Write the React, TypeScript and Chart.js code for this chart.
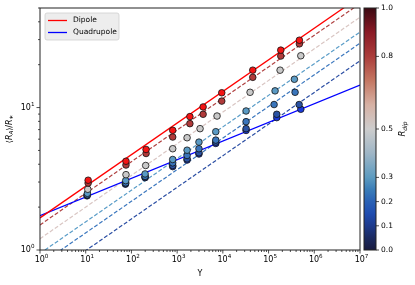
import React, { useEffect, useRef } from "react";
import { Chart, registerables } from "chart.js";
Chart.register(...registerables);

const FONT = "DejaVu Sans";

// axis ranges
const xMin = 1;
const xMax = 1e7;
const yMin = 1;
const yMax = 50;

// fit lines, values at Y = 1 and Y = 1e7
const lineY = [1, 1e7];
const dipoleLine = [1.68, 60.1];
const quadLine = [1.74, 14.4];

// dashed mixed-geometry lines (R_dip)
const dashedRdip = [0.8, 0.5, 0.3, 0.2, 0.1];
const dashedStart = [1.5, 1.2, 0.946, 0.791, 0.594];
const dashedEnd = [53.7, 43.1, 33.9, 28.3, 21.3];
const dashedColors = ["#b04242", "#d9c6c3", "#5a9dc8", "#3b77be", "#2b4ea3"];

// simulations grouped by R_dip
const seriesRdip = [1.0, 0.8, 0.5, 0.3, 0.2, 0.1, 0.0];
const pointColors = ["#f41414", "#b03a3a", "#c9c9c9", "#5a9ac4", "#3a75bb", "#2a52a3", "#1a3ad8"];

const ups10 = [11.3, 76, 209, 800, 1900, 3700, 9460, 45100, 185000, 472000];
const ups08 = [11.3, 76, 209, 800, 1900, 3700, 9460, 45100, 185000, 472000];
const ups05 = [11.1, 76, 205, 800, 1650, 3170, 7460, 39400, 178600, 507000];
const ups03 = [10.9, 75, 199, 800, 1650, 3000, 7000, 32200, 138700, 367000];
const ups02 = [10.8, 75, 199, 800, 1650, 3000, 7000, 32200, 132000, 380000];
const ups01 = [10.7, 74, 199, 800, 1650, 3000, 7000, 32200, 151000, 466000];
const ups00 = [10.7, 74, 199, 800, 1650, 3000, 7000, 32200, 151000, 507000];

const ra10 = [3.09, 4.2, 5.08, 6.92, 8.64, 10.1, 12.7, 18.3, 25.3, 29.7];
const ra08 = [2.95, 3.95, 4.76, 6.21, 7.71, 8.97, 11.1, 16.3, 23.0, 28.0];
const ra05 = [2.67, 3.38, 3.92, 5.14, 6.14, 7.11, 8.72, 12.8, 18.3, 23.1];
const ra03 = [2.5, 3.07, 3.42, 4.32, 5.02, 5.72, 6.77, 9.46, 13.1, 15.8];
const ra02 = [2.44, 2.96, 3.29, 4.09, 4.61, 5.14, 5.91, 7.96, 10.5, 12.8];
const ra01 = [2.42, 2.92, 3.25, 3.92, 4.36, 4.81, 5.72, 7.11, 8.97, 10.5];
const ra00 = [2.4, 2.9, 3.22, 3.85, 4.28, 4.72, 5.6, 6.91, 8.5, 9.73];

const upsSeries = [ups10, ups08, ups05, ups03, ups02, ups01, ups00];
const raSeries = [ra10, ra08, ra05, ra03, ra02, ra01, ra00];

// colour bar
const cmapStops: [number, string][] = [
  [0.0, "#191b3f"],
  [0.05, "#1b2a60"],
  [0.1, "#1d3a8c"],
  [0.15, "#1f4cb0"],
  [0.2, "#2a61b5"],
  [0.25, "#3a7db8"],
  [0.3, "#5d9bc0"],
  [0.4, "#9fb6c6"],
  [0.5, "#cdcdcd"],
  [0.6, "#d6b1a4"],
  [0.7, "#c47762"],
  [0.8, "#ab3d3b"],
  [0.9, "#8a1a25"],
  [1.0, "#3b0a12"],
];
const cbTicks = [0.0, 0.1, 0.2, 0.3, 0.5, 0.8, 1.0];

const xTickVals: number[] = [];
for (let k = 0; k < 7; k++) for (let m = 1; m < 10; m++) xTickVals.push(m * Math.pow(10, k));
xTickVals.push(1e7);
const yTickVals = [1, 2, 3, 4, 5, 6, 7, 8, 9, 10, 20, 30, 40, 50];

const isPow = (v: number) => Math.abs(Math.log10(v) - Math.round(Math.log10(v))) < 1e-9;

type Piece = { t: string; font: string; dy: number };
function richWidth(ctx: CanvasRenderingContext2D, pieces: Piece[]) {
  let w = 0;
  pieces.forEach((p) => {
    ctx.font = p.font;
    w += ctx.measureText(p.t).width;
  });
  return w;
}
function drawRich(
  ctx: CanvasRenderingContext2D,
  pieces: Piece[],
  x: number,
  y: number,
  rot: number,
  align: "center" | "right" = "center"
) {
  ctx.save();
  ctx.translate(x, y);
  ctx.rotate(rot);
  const w = richWidth(ctx, pieces);
  let cx = align === "center" ? -w / 2 : -w;
  ctx.textBaseline = "middle";
  ctx.textAlign = "left";
  ctx.fillStyle = "#000";
  pieces.forEach((p) => {
    ctx.font = p.font;
    ctx.fillText(p.t, cx, p.dy);
    cx += ctx.measureText(p.t).width;
  });
  ctx.restore();
}
const powPieces = (v: number): Piece[] => [
  { t: "10", font: `8px ${FONT}`, dy: 0 },
  { t: String(Math.round(Math.log10(v))), font: `5.6px ${FONT}`, dy: -3 },
];

const decor = {
  id: "decor",
  afterDraw(chart: any) {
    const { ctx, chartArea: a, scales } = chart;
    ctx.save();
    // tick marks and labels
    ctx.strokeStyle = "#222";
    ctx.lineWidth = 0.8;
    scales.x.ticks.forEach((t: any) => {
      const p = scales.x.getPixelForValue(t.value);
      const maj = isPow(t.value);
      ctx.beginPath();
      ctx.moveTo(p, a.bottom);
      ctx.lineTo(p, a.bottom + (maj ? 3.5 : 2));
      ctx.stroke();
      if (maj) drawRich(ctx, powPieces(t.value), p + 1.5, a.bottom + 10, 0);
    });
    scales.y.ticks.forEach((t: any) => {
      const p = scales.y.getPixelForValue(t.value);
      const maj = isPow(t.value);
      ctx.beginPath();
      ctx.moveTo(a.left, p);
      ctx.lineTo(a.left - (maj ? 3.5 : 2), p);
      ctx.stroke();
      if (maj) drawRich(ctx, powPieces(t.value), a.left - 5.5, p, 0, "right");
    });
    // frame
    ctx.lineWidth = 1;
    ctx.strokeStyle = "#222";
    ctx.strokeRect(a.left, a.top, a.right - a.left, a.bottom - a.top);

    // axis titles
    drawRich(ctx, [{ t: "Υ", font: `8px ${FONT}`, dy: 0 }], (a.left + a.right) / 2, a.bottom + 24, 0);
    drawRich(
      ctx,
      [
        { t: "⟨", font: `8px ${FONT}`, dy: 0 },
        { t: "R", font: `italic 8px ${FONT}`, dy: 0 },
        { t: "A", font: `italic 5.5px ${FONT}`, dy: 2 },
        { t: "⟩/", font: `8px ${FONT}`, dy: 0 },
        { t: "R", font: `italic 8px ${FONT}`, dy: 0 },
        { t: "∗", font: `5.5px ${FONT}`, dy: 2 },
      ],
      10,
      (a.top + a.bottom) / 2,
      -Math.PI / 2
    );

    // legend
    const lx = a.left + 5,
      ly = a.top + 5,
      lw = 74,
      lh = 27;
    ctx.beginPath();
    ctx.roundRect(lx, ly, lw, lh, 2);
    ctx.fillStyle = "rgba(236,236,236,0.95)";
    ctx.fill();
    ctx.strokeStyle = "#cfcfcf";
    ctx.lineWidth = 0.8;
    ctx.stroke();
    const items = [
      { c: "#ff0000", t: "Dipole" },
      { c: "#0000ff", t: "Quadrupole" },
    ];
    items.forEach((it, i) => {
      const yy = ly + 7.5 + i * 12;
      ctx.strokeStyle = it.c;
      ctx.lineWidth = 1.3;
      ctx.beginPath();
      ctx.moveTo(lx + 3, yy);
      ctx.lineTo(lx + 22, yy);
      ctx.stroke();
      ctx.fillStyle = "#000";
      ctx.font = `7.5px ${FONT}`;
      ctx.textBaseline = "middle";
      ctx.textAlign = "left";
      ctx.fillText(it.t, lx + 28, yy);
    });

    // colour bar
    const cbL = a.right + 4,
      cbR = a.right + 16,
      cbT = a.top,
      cbB = a.bottom;
    const g = ctx.createLinearGradient(0, cbB, 0, cbT);
    cmapStops.forEach(([s, c]) => g.addColorStop(s, c));
    ctx.fillStyle = g;
    ctx.fillRect(cbL, cbT, cbR - cbL, cbB - cbT);
    ctx.strokeStyle = "#222";
    ctx.lineWidth = 1;
    ctx.strokeRect(cbL, cbT, cbR - cbL, cbB - cbT);
    ctx.font = `7.5px ${FONT}`;
    ctx.fillStyle = "#000";
    ctx.textAlign = "left";
    ctx.textBaseline = "middle";
    cbTicks.forEach((v) => {
      const p = cbB - v * (cbB - cbT);
      ctx.lineWidth = 0.8;
      ctx.beginPath();
      ctx.moveTo(cbR, p);
      ctx.lineTo(cbR + 3, p);
      ctx.stroke();
      ctx.font = `7.5px ${FONT}`;
      ctx.fillStyle = "#000";
      ctx.textAlign = "left";
      ctx.textBaseline = "middle";
      ctx.fillText(v.toFixed(1), cbR + 5, p);
    });
    drawRich(
      ctx,
      [
        { t: "R", font: `italic 8.5px ${FONT}`, dy: 0 },
        { t: "dip", font: `italic 6px ${FONT}`, dy: 2 },
      ],
      a.right + 43,
      (cbT + cbB) / 2,
      -Math.PI / 2
    );
    ctx.restore();
  },
};

export default function App() {
  const ref = useRef<HTMLCanvasElement>(null);
  useEffect(() => {
    document.body.style.margin = "0";
    const datasets: any[] = [];
    seriesRdip.forEach((r, i) => {
      datasets.push({
        type: "scatter",
        label: "Rdip " + r,
        data: upsSeries[i].map((x, j) => ({ x, y: raSeries[i][j] })),
        backgroundColor: pointColors[i],
        borderColor: "#111",
        borderWidth: 0.8,
        pointRadius: 3.3,
        order: 1,
      });
    });
    dashedRdip.forEach((r, i) => {
      datasets.push({
        type: "line",
        label: "mix " + r,
        data: [
          { x: lineY[0], y: dashedStart[i] },
          { x: lineY[1], y: dashedEnd[i] },
        ],
        borderColor: dashedColors[i],
        borderWidth: 1.2,
        borderDash: [4, 2],
        pointRadius: 0,
        fill: false,
        order: 3,
      });
    });
    datasets.push({
      type: "line",
      label: "Dipole",
      data: lineY.map((x, j) => ({ x, y: dipoleLine[j] })),
      borderColor: "#ff0000",
      borderWidth: 1.3,
      pointRadius: 0,
      fill: false,
      order: 2,
    });
    datasets.push({
      type: "line",
      label: "Quadrupole",
      data: lineY.map((x, j) => ({ x, y: quadLine[j] })),
      borderColor: "#0000ff",
      borderWidth: 1.3,
      pointRadius: 0,
      fill: false,
      order: 2,
    });

    const chart = new Chart(ref.current!, {
      type: "scatter",
      data: { datasets },
      options: {
        animation: false,
        responsive: false,
        devicePixelRatio: 1,
        layout: { padding: { left: 0, right: 55, top: 8, bottom: 0 } },
        plugins: { legend: { display: false }, tooltip: { enabled: false } },
        scales: {
          x: {
            type: "logarithmic",
            min: xMin,
            max: xMax,
            afterBuildTicks: (s: any) => {
              s.ticks = xTickVals.map((v) => ({ value: v }));
            },
            afterFit: (s: any) => {
              s.height = 35;
            },
            ticks: { display: false, autoSkip: false },
            grid: { display: false },
            border: { display: false },
          },
          y: {
            type: "logarithmic",
            min: yMin,
            max: yMax,
            afterBuildTicks: (s: any) => {
              s.ticks = yTickVals.map((v) => ({ value: v }));
            },
            afterFit: (s: any) => {
              s.width = 40;
            },
            ticks: { display: false, autoSkip: false },
            grid: { display: false },
            border: { display: false },
          },
        },
      } as any,
      plugins: [decor],
    });
    return () => chart.destroy();
  }, []);
  return (
    <div style={{ width: 415, height: 285 }}>
      <canvas ref={ref} width={415} height={285} />
    </div>
  );
}
